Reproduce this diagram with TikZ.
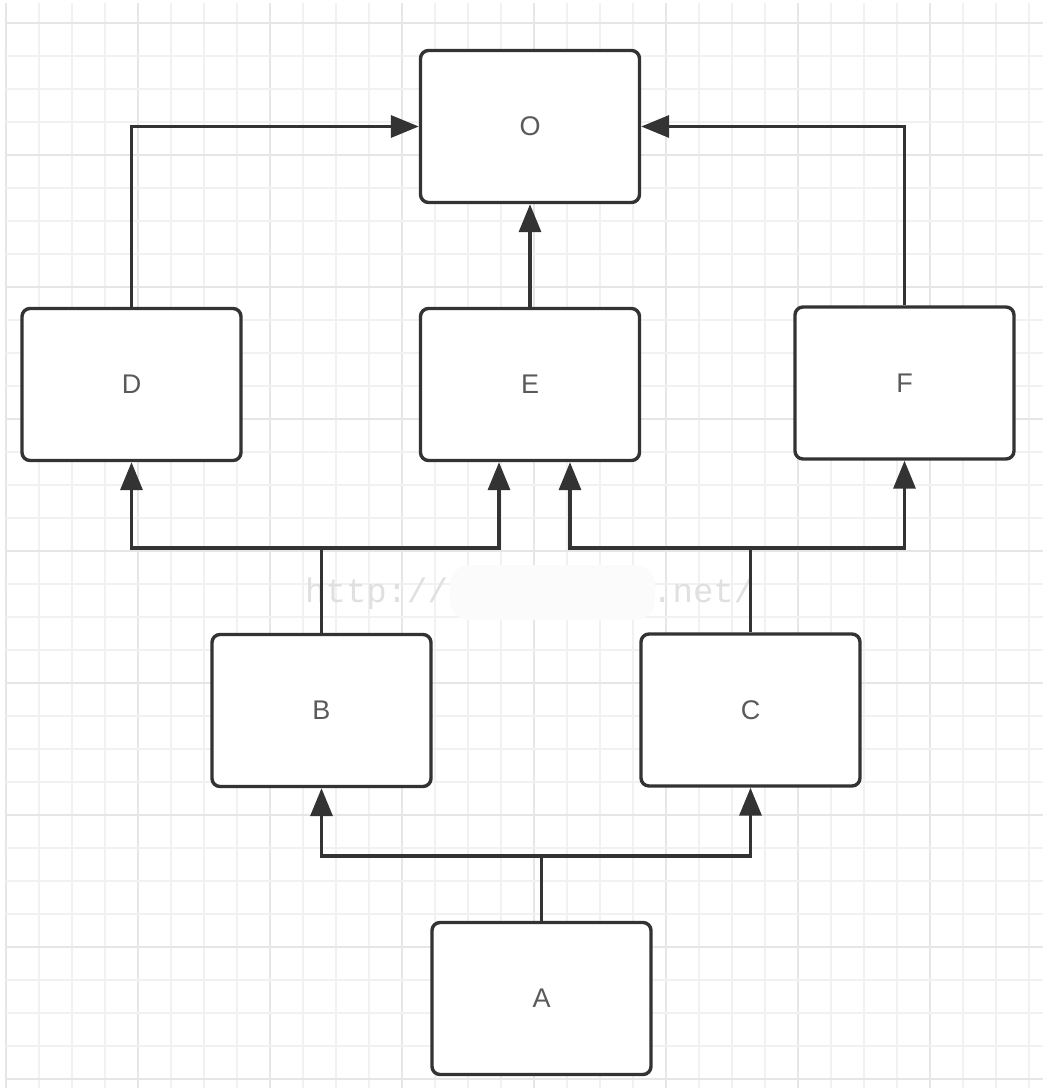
\documentclass[tikz,border=0pt]{standalone}
\usepackage{fontspec}
\setmainfont{Liberation Sans}
\newfontfamily\wmfont{Liberation Mono}
\usetikzlibrary{arrows.meta}
\definecolor{gridminor}{HTML}{F1F1F1}
\definecolor{gridmajor}{HTML}{E6E6E6}
\definecolor{linecol}{HTML}{333333}
\definecolor{labelcol}{HTML}{5A5A5A}
\definecolor{wmcol}{HTML}{E0E0E0}
\tikzset{
  boxnode/.style={draw=linecol, line width=3.4pt, rounded corners=8pt, fill=white,
    minimum width=219pt, minimum height=152pt, inner sep=0pt,
    font=\fontsize{27}{30}\selectfont, text=labelcol},
  conn/.style={draw=linecol, line width=3.4pt},
  arr/.style={conn, -{Triangle[length=28pt,width=22pt]}},
}
\begin{document}
\begin{tikzpicture}[x=1pt,y=-1pt]
\useasboundingbox (0,0) rectangle (1054,1088);
\fill[white] (0,0) rectangle (1054,1088);
% grid
\foreach \k in {0,...,31} {
  \pgfmathtruncatemacro{\m}{mod(\k,4)}
  \ifnum\m=0
    \draw[gridmajor, line width=1.6pt] ({6+33*\k},3) -- ({6+33*\k},1088);
  \else
    \draw[gridminor, line width=1.4pt] ({6+33*\k},3) -- ({6+33*\k},1088);
  \fi
}
\foreach \k in {0,...,32} {
  \pgfmathtruncatemacro{\m}{mod(\k,4)}
  \ifnum\m=0
    \draw[gridmajor, line width=1.6pt] (6,{23+33*\k}) -- (1043,{23+33*\k});
  \else
    \draw[gridminor, line width=1.4pt] (6,{23+33*\k}) -- (1043,{23+33*\k});
  \fi
}
% watermark
\node[anchor=base west, inner sep=0pt, text=wmcol, font=\wmfont\fontsize{34}{36}\selectfont] (wm1) at (305,602) {http://};
\fill[white!97!gray, rounded corners=20pt] (450,565) rectangle (655,620);
\node[anchor=base west, inner sep=0pt, text=wmcol, font=\wmfont\fontsize{34}{36}\selectfont] (wm2) at (652,602) {.net/};
% boxes
\node[boxnode] (O) at (530,126.5) {O};
\node[boxnode] (D) at (131.5,384.5) {D};
\node[boxnode] (E) at (530,384.5) {E};
\node[boxnode] (F) at (904.5,383) {F};
\node[boxnode] (B) at (321.5,710.5) {B};
\node[boxnode] (C) at (750.5,710) {C};
\node[boxnode] (A) at (541.5,998.5) {A};
% junctions
\coordinate (bj) at (321.5,548);
\coordinate (cj) at (750.5,548);
\coordinate (aj) at (541.5,856);
% connectors
\draw[arr] (D.north) |- (O.west);
\draw[arr] (F.north) |- (O.east);
\draw[arr] (E.north) -- (O.south);
\draw[conn] (B.north) -- (bj);
\draw[arr] (bj) -| (D.south);
\draw[arr] (bj) -| ([xshift=-31pt]E.south);
\draw[conn] (C.north) -- (cj);
\draw[arr] (cj) -| ([xshift=40pt]E.south);
\draw[arr] (cj) -| (F.south);
\draw[conn] (A.north) -- (aj);
\draw[arr] (aj) -| (B.south);
\draw[arr] (aj) -| (C.south);
\end{tikzpicture}
\end{document}
